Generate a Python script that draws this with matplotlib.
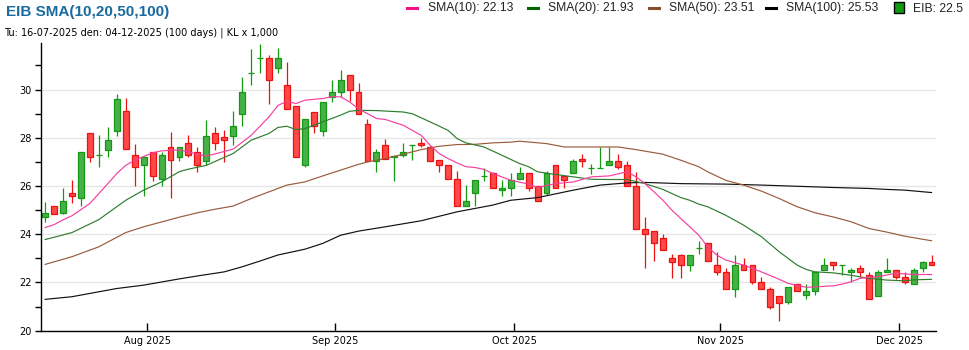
import matplotlib
matplotlib.use("Agg")
import matplotlib.pyplot as plt
import numpy as np
import pandas as pd
from matplotlib.lines import Line2D
from matplotlib.patches import Rectangle
from matplotlib.ticker import MultipleLocator

# Trading days (KL), 16-07-2025 -> 04-12-2025
holidays = ["2025-09-01", "2025-09-16"]
dates = pd.bdate_range("2025-07-16", "2025-12-04")
dates = dates[~dates.isin(pd.to_datetime(holidays))]

# OHLC
opens = [24.70, 25.19, 24.90, 25.73, 25.52, 28.22, 27.30, 27.51, 28.30, 29.10,
         27.30, 26.89, 27.42, 26.31, 27.60, 27.22, 27.80, 27.42, 27.02, 28.22,
         28.02, 28.09, 29.00, 30.70, 31.33, 31.33, 30.91, 30.21, 29.30, 26.89,
         29.09, 28.30, 29.70, 29.92, 30.62, 29.92, 28.59, 27.02, 27.72, 27.22,
         27.30, 27.70, 27.80, 27.60, 27.10, 26.89, 26.31, 25.19, 25.73, 26.40,
         26.52, 25.82, 25.90, 26.31, 26.52, 26.02, 25.73, 26.89, 26.40, 26.52,
         27.11, 26.73, 26.74, 26.89, 27.02, 26.89, 26.02, 24.20, 24.12, 23.83,
         23.00, 23.12, 22.71, 23.42, 23.62, 22.71, 22.42, 21.71, 22.71, 22.71,
         22.00, 21.71, 21.42, 21.20, 21.92, 21.50, 21.63, 22.50, 22.83, 22.71,
         22.42, 22.62, 22.33, 21.42, 22.42, 22.50, 22.21, 21.92, 22.62, 22.83]
highs = [25.33, 25.19, 25.90, 26.24, 27.43, 28.22, 28.10, 28.44, 29.81, 29.64,
         27.73, 27.22, 27.42, 27.42, 28.25, 27.60, 28.10, 27.62, 28.73, 28.43,
         28.31, 29.12, 30.51, 31.70, 31.91, 31.42, 31.71, 31.13, 29.30, 28.80,
         29.09, 29.50, 30.41, 30.80, 30.62, 30.29, 28.80, 27.53, 27.94, 27.27,
         27.80, 27.72, 28.01, 27.68, 27.10, 26.89, 26.62, 26.04, 26.23, 26.73,
         26.60, 26.23, 26.52, 26.81, 26.52, 26.02, 26.62, 26.89, 26.40, 27.11,
         27.32, 26.91, 27.62, 27.62, 27.32, 27.02, 26.60, 24.70, 24.12, 24.03,
         23.20, 23.20, 23.12, 23.70, 23.62, 23.25, 22.62, 23.12, 23.00, 22.71,
         22.21, 21.80, 21.42, 21.80, 21.92, 21.92, 22.42, 23.00, 22.83, 22.71,
         22.62, 22.71, 22.42, 22.50, 23.00, 22.50, 22.42, 22.62, 22.91, 23.12]
lows = [24.52, 24.83, 24.82, 25.30, 25.18, 27.00, 26.80, 27.21, 28.08, 27.53,
        26.00, 25.60, 26.22, 26.02, 25.52, 27.02, 27.20, 26.59, 26.86, 27.51,
        27.00, 27.71, 28.49, 30.20, 30.69, 29.42, 30.69, 29.21, 27.22, 26.80,
        28.20, 28.07, 29.49, 29.70, 29.52, 29.00, 27.02, 26.59, 27.11, 26.22,
        27.21, 27.10, 27.60, 27.02, 26.59, 26.31, 25.19, 25.19, 25.18, 26.22,
        25.90, 25.59, 25.59, 26.31, 25.80, 25.40, 25.61, 25.90, 25.90, 26.52,
        26.80, 26.50, 26.74, 26.89, 26.71, 26.02, 24.20, 22.62, 22.91, 23.33,
        22.20, 22.20, 22.49, 23.20, 22.91, 22.33, 21.71, 21.41, 22.50, 21.92,
        21.71, 20.91, 20.41, 21.12, 21.63, 21.30, 21.49, 22.50, 22.50, 22.30,
        22.00, 22.21, 21.30, 21.42, 22.42, 22.13, 21.92, 21.92, 22.42, 22.71]
closes = [24.89, 24.83, 25.40, 25.60, 27.43, 27.22, 27.30, 27.93, 29.63, 27.53,
          26.80, 27.22, 26.41, 27.30, 27.10, 27.60, 27.30, 26.89, 28.09, 27.80,
          27.93, 28.51, 29.92, 30.70, 31.33, 30.41, 31.33, 29.21, 27.22, 28.80,
          28.51, 29.50, 29.92, 30.41, 29.97, 29.00, 27.02, 27.43, 27.11, 27.25,
          27.42, 27.72, 27.70, 27.02, 26.89, 26.31, 25.19, 25.40, 26.23, 26.41,
          25.90, 25.90, 26.23, 26.52, 25.90, 25.40, 26.52, 25.90, 26.23, 27.02,
          27.02, 26.74, 26.74, 27.02, 26.81, 26.02, 24.20, 24.03, 23.62, 23.33,
          22.83, 22.71, 23.12, 23.43, 22.91, 22.42, 21.71, 22.71, 22.50, 22.00,
          21.71, 21.00, 21.13, 21.80, 21.63, 21.63, 22.42, 22.71, 22.71, 22.71,
          22.50, 22.42, 21.30, 22.42, 22.50, 22.21, 22.00, 22.50, 22.83, 22.71]

# moving averages (day index, value)
sma10_idx = [0, 1, 2, 3, 5, 7, 8, 9, 10, 12, 13, 15, 18, 21, 23, 25, 26, 27, 28,
             29, 31, 32, 33, 34, 35, 36, 37, 38, 40, 42, 43, 44, 45, 46, 47, 48,
             49, 50, 52, 54, 55, 57, 59, 61, 63, 65, 66, 67, 68, 69, 70, 71, 72,
             73, 74, 75, 76, 78, 80, 82, 83, 84, 85, 86, 88, 89, 90, 91, 93, 94,
             95, 97, 99]
sma10_val = [24.28, 24.40, 24.60, 24.77, 25.28, 26.10, 26.52, 26.86, 27.07, 27.38,
             27.46, 27.50, 27.24, 27.53, 28.10, 28.87, 29.34, 29.52, 29.42, 29.56,
             29.63, 29.70, 29.70, 29.49, 29.20, 29.00, 28.80, 28.76, 28.52, 28.10,
             27.69, 27.35, 27.14, 26.96, 26.80, 26.77, 26.69, 26.52, 26.24, 26.08,
             25.94, 26.10, 26.17, 26.38, 26.42, 26.59, 26.38, 26.10, 25.76, 25.41,
             25.00, 24.65, 24.31, 23.96, 23.48, 23.14, 22.93, 22.72, 22.44, 22.13,
             21.96, 21.88, 21.80, 21.82, 21.86, 21.93, 22.03, 22.17, 22.24, 22.31,
             22.38, 22.33, 22.33]
sma20_idx = [0, 3, 6, 9, 11, 13, 15, 16, 18, 21, 23, 25, 26, 27, 28, 29, 31, 33,
             34, 35, 37, 40, 41, 43, 45, 46, 47, 49, 51, 53, 54, 55, 57, 59, 61,
             63, 65, 67, 69, 71, 72, 73, 74, 76, 78, 80, 82, 84, 85, 86, 88, 90,
             92, 94, 96, 97, 99]
sma20_val = [23.78, 24.07, 24.61, 25.41, 25.83, 26.17, 26.60, 26.70, 26.86, 27.35,
             27.90, 28.18, 28.43, 28.48, 28.34, 28.38, 28.66, 28.94, 29.10, 29.14,
             29.13, 29.07, 29.00, 28.66, 28.31, 27.97, 27.79, 27.62, 27.28, 26.93,
             26.80, 26.59, 26.48, 26.38, 26.28, 26.27, 26.27, 26.10, 25.86, 25.52,
             25.41, 25.25, 25.14, 24.79, 24.38, 23.90, 23.27, 22.72, 22.54, 22.44,
             22.40, 22.30, 22.17, 22.10, 22.07, 22.11, 22.13]
sma50_idx = [0, 3, 6, 9, 11, 15, 17, 19, 21, 23, 25, 27, 29, 31, 33, 35, 36, 38,
             40, 42, 44, 46, 48, 50, 52, 53, 56, 58, 62, 64, 66, 69, 71, 73, 74,
             76, 78, 80, 82, 84, 86, 88, 90, 92, 94, 96, 99]
sma50_val = [22.75, 23.07, 23.48, 24.07, 24.31, 24.71, 24.89, 25.04, 25.17, 25.48,
             25.76, 26.04, 26.17, 26.42, 26.66, 26.90, 27.00, 27.14, 27.32, 27.51,
             27.65, 27.72, 27.73, 27.79, 27.82, 27.86, 27.76, 27.62, 27.62, 27.62,
             27.51, 27.32, 27.07, 26.80, 26.59, 26.24, 26.04, 25.79, 25.48, 25.14,
             24.89, 24.72, 24.52, 24.24, 24.09, 23.92, 23.73]
sma100_idx = [0, 3, 8, 11, 15, 17, 20, 22, 24, 26, 29, 31, 33, 35, 38, 42, 46, 50,
              52, 55, 59, 62, 65, 67, 71, 76, 80, 84, 88, 92, 94, 96, 99]
sma100_val = [21.30, 21.41, 21.75, 21.89, 22.15, 22.27, 22.44, 22.65, 22.89, 23.14,
              23.38, 23.62, 23.96, 24.13, 24.31, 24.56, 24.93, 25.21, 25.41, 25.52,
              25.83, 26.04, 26.13, 26.15, 26.10, 26.08, 26.04, 25.99, 25.94, 25.90,
              25.86, 25.83, 25.73]

legend_labels = ["SMA(10): 22.13", "SMA(20): 21.93", "SMA(50): 23.51",
                 "SMA(100): 25.53", "EIB: 22.5"]

W, H = 970, 350
fig = plt.figure(figsize=(W / 100, H / 100), dpi=100)
ax = fig.add_axes([40.7 / W, 1 - 330.7 / H, (936 - 40.7) / W, (330.7 - 43.3) / H])


def px(x):
    return x / W


def py(y):
    return 1 - y / H


# candles
x = np.arange(len(dates))
for i in x:
    o, h, l, c = opens[i], highs[i], lows[i], closes[i]
    if c >= o:
        fill, edge = "#48b048", "#129a12"
    else:
        fill, edge = "#ff4848", "#ee1111"
    ax.vlines(i, l, h, color=edge, lw=0.9, zorder=2)
    ax.add_patch(Rectangle((i - 0.33, min(o, c)), 0.66, abs(c - o),
                           facecolor=fill, edgecolor=edge, lw=0.9, zorder=2.5))

# moving averages
ax.plot(sma100_idx, sma100_val, color="#111111", lw=0.85, zorder=3)
ax.plot(sma50_idx, sma50_val, color="#9b5a3c", lw=0.85, zorder=3)
ax.plot(sma20_idx, sma20_val, color="#2e7d2e", lw=0.85, zorder=3)
ax.plot(sma10_idx, sma10_val, color="#f53fa0", lw=0.85, zorder=3)

ax.set_xlim(-0.5, 99.5)
ax.set_ylim(20, 31.92)
ax.yaxis.set_major_locator(MultipleLocator(2))
ax.yaxis.set_minor_locator(MultipleLocator(1))
ax.grid(axis="y", which="major", color="#e6e6e6", lw=1, zorder=0)
ax.set_axisbelow(True)

# month ticks
months = dates.month
month_start = [i for i in range(1, len(dates)) if months[i] != months[i - 1]]
ax.set_xticks([i - 0.62 for i in month_start])
ax.set_xticklabels([dates[i].strftime("%b %Y") for i in month_start])

ax.tick_params(axis="x", direction="in", length=6, width=1, pad=4,
               labelsize=7, colors="black")
ax.tick_params(axis="y", which="both", direction="out", length=4.5, width=1,
               pad=2, labelsize=7)
for s in ["top", "right"]:
    ax.spines[s].set_visible(False)
for s in ["left", "bottom"]:
    ax.spines[s].set_linewidth(1)

# header
fig.text(px(6), py(16), "EIB SMA(10,20,50,100)", fontsize=11, fontweight="bold",
         family="Liberation Sans", color="#1a6aa0", va="baseline")
fig.text(px(4), py(35), "Tu: 16-07-2025 den: 04-12-2025 (100 days) | KL x 1,000",
         fontsize=7, family="DejaVu Sans", va="baseline")

# legend row
line_cols = ["#ee1188", "#006600", "#8b4c2c", "#000000"]
line_x = [407, 528, 649, 766]
text_x = [428, 548, 669, 786, 913]
for lx, col in zip(line_x, line_cols):
    fig.add_artist(Line2D([px(lx), px(lx + 10)], [py(7.8), py(7.8)], color=col,
                          lw=2.2, transform=fig.transFigure))
fig.add_artist(Rectangle((px(894), py(12.7)), px(10), 11 / H,
                         facecolor="#119911", edgecolor="black", lw=1,
                         transform=fig.transFigure))
for tx, lab in zip(text_x, legend_labels):
    fig.text(px(tx), py(8.5), lab, fontsize=8.7, family="Liberation Sans",
             va="center", color="#222222")

fig.savefig("out.png", dpi=100)
